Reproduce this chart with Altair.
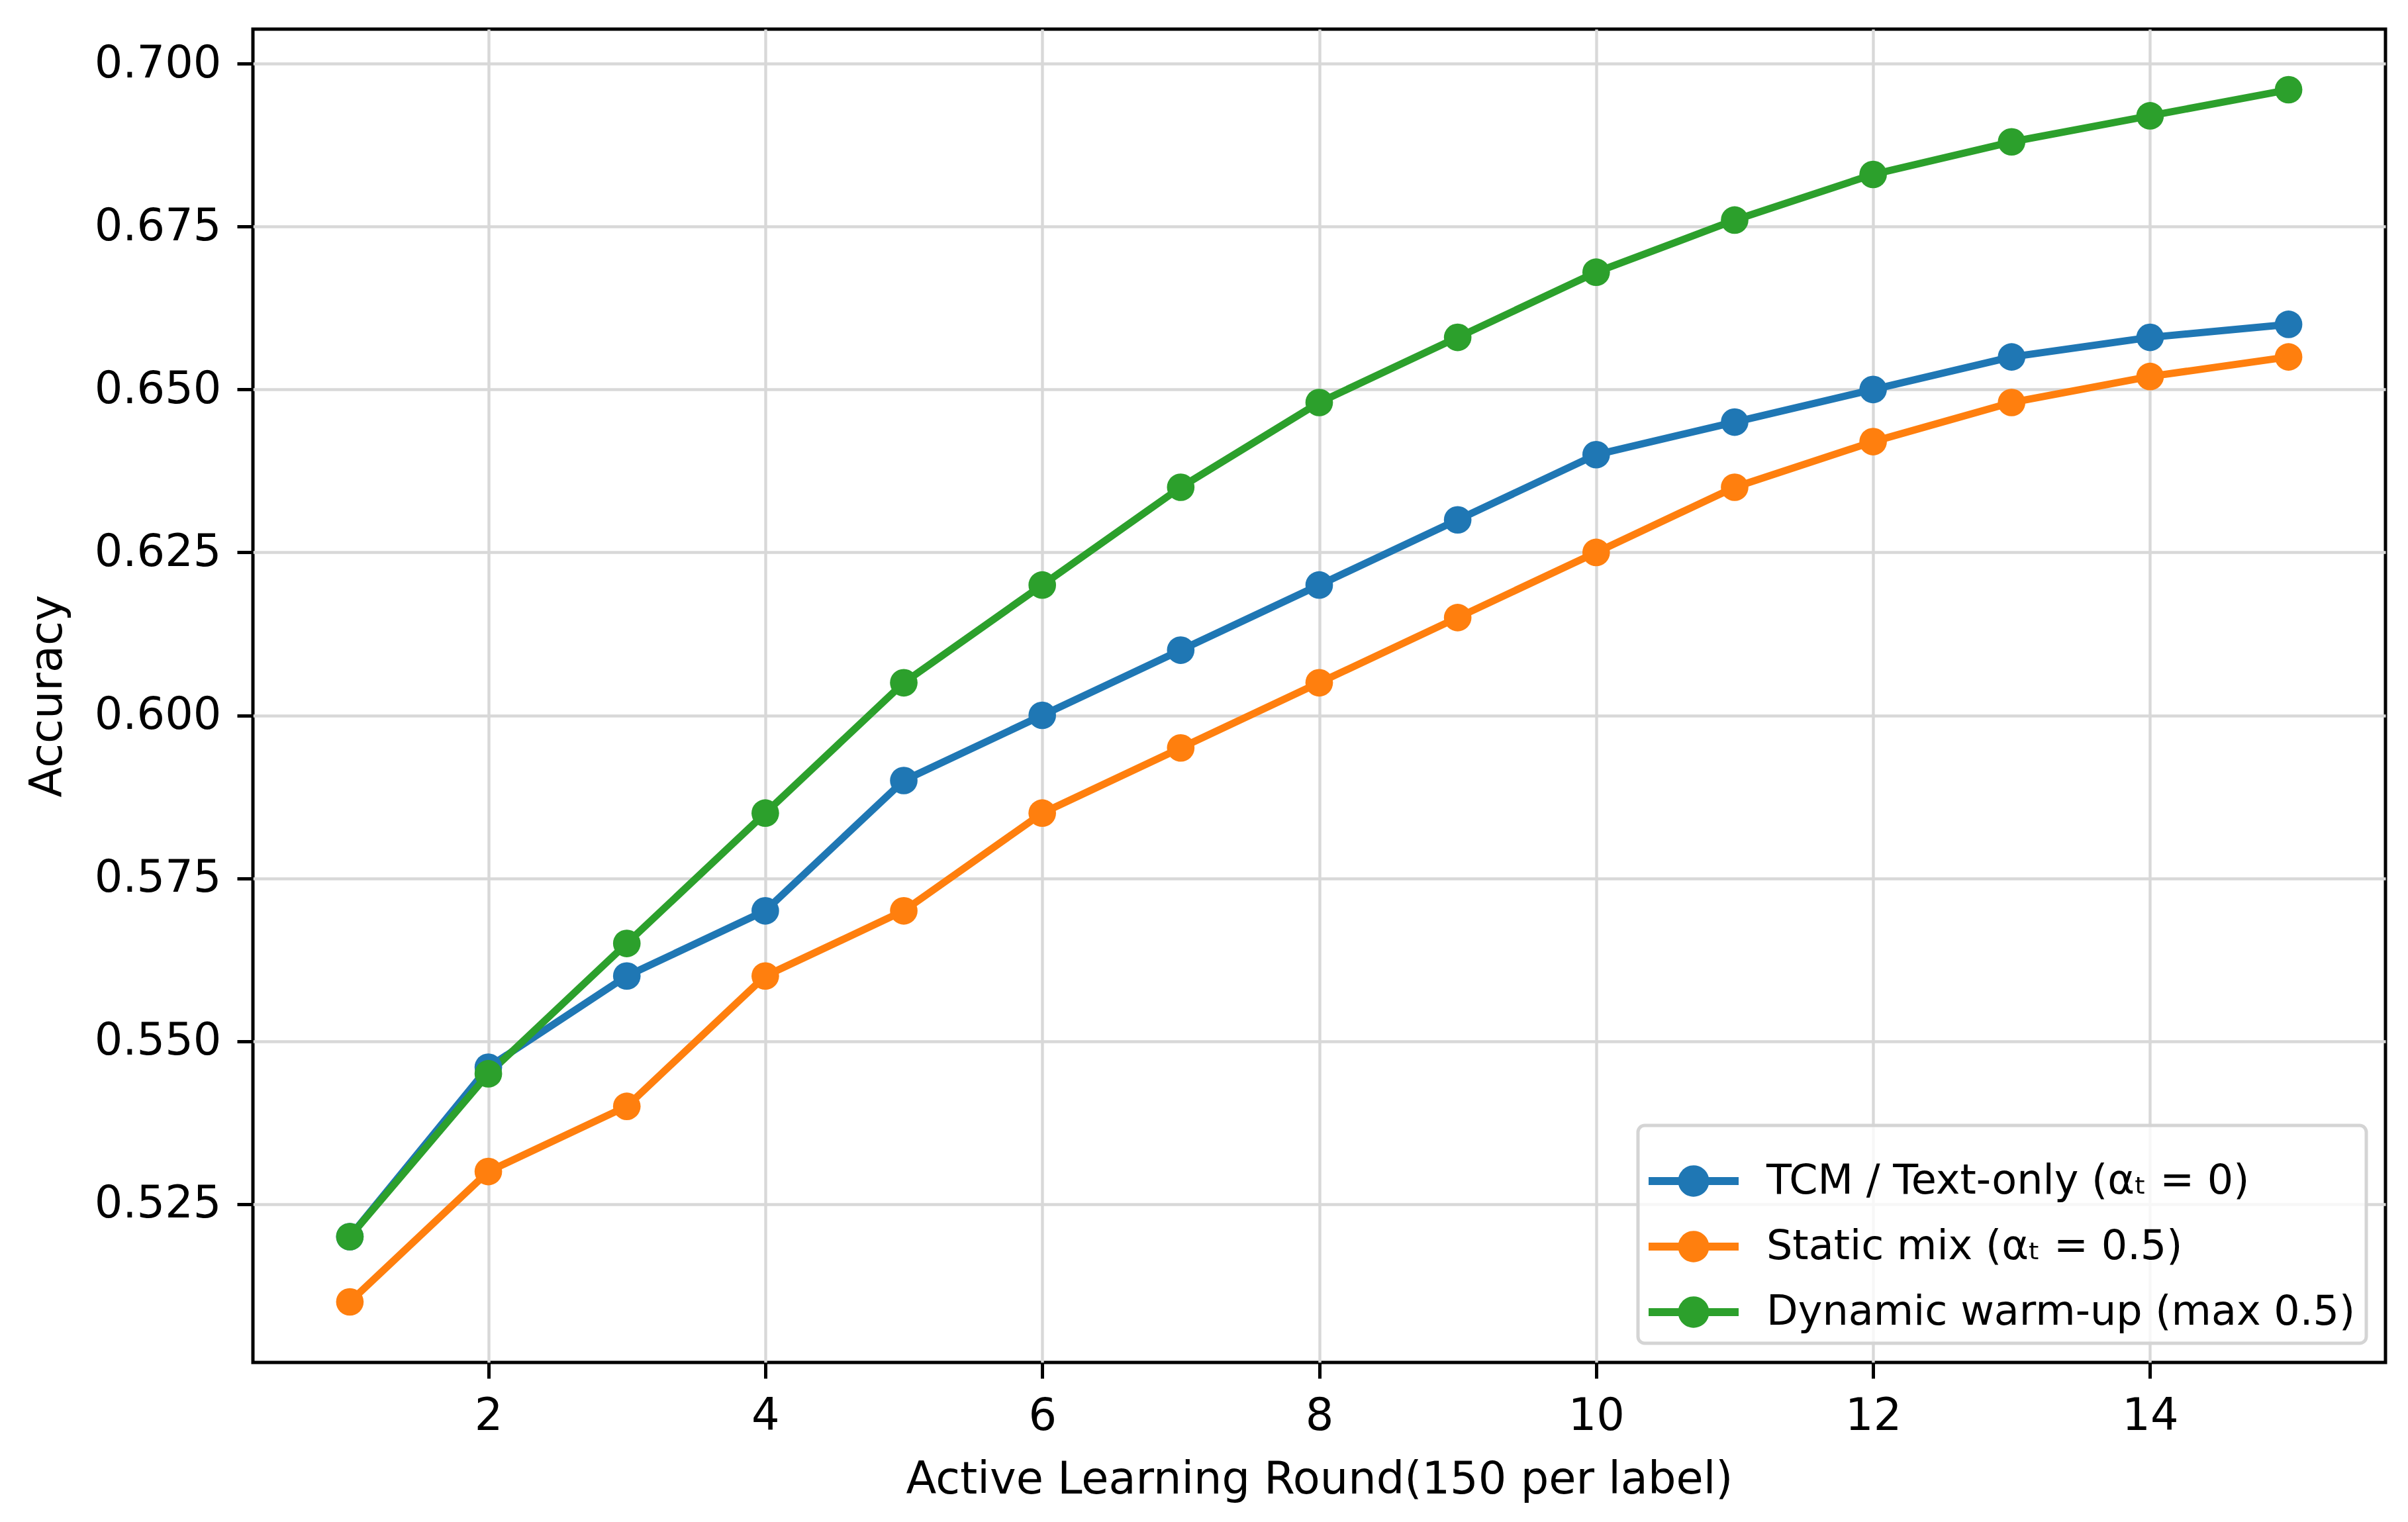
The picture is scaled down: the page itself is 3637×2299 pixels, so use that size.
import altair as alt
import pandas as pd

rounds = list(range(1, 16))
tcm = [0.520, 0.546, 0.560, 0.570, 0.590, 0.600, 0.610, 0.620, 0.630, 0.640, 0.645, 0.650, 0.655, 0.658, 0.660]
static_mix = [0.510, 0.530, 0.540, 0.560, 0.570, 0.585, 0.595, 0.605, 0.615, 0.625, 0.635, 0.642, 0.648, 0.652, 0.655]
dynamic = [0.520, 0.545, 0.565, 0.585, 0.605, 0.620, 0.635, 0.648, 0.658, 0.668, 0.676, 0.683, 0.688, 0.692, 0.696]

series_names = ["TCM / Text-only (αₜ = 0)", "Static mix (αₜ = 0.5)", "Dynamic warm-up (max 0.5)"]
series_colors = ["#1f77b4", "#ff7f0e", "#2ca02c"]
y_ticks = [0.525, 0.550, 0.575, 0.600, 0.625, 0.650, 0.675, 0.700]
x_ticks = [2, 4, 6, 8, 10, 12, 14]

rows = []
for sid, (name, vals) in enumerate(zip(series_names, [tcm, static_mix, dynamic])):
    for r, v in zip(rounds, vals):
        rows.append({"round": r, "acc": v, "series": name, "sid": sid})
df = pd.DataFrame(rows)

FONT = "DejaVu Sans"
FS = 67

# legend handle: line segment with a circle in the middle
sym_path = ("M-1,-0.088 L-0.335,-0.088 A0.346,0.346 0 0,1 0.335,-0.088 L1,-0.088 L1,0.088 "
            "L0.335,0.088 A0.346,0.346 0 0,1 -0.335,0.088 L-1,0.088 Z")

x_enc = alt.X("round:Q",
              scale=alt.Scale(domain=[0.3, 15.7], nice=False, zero=False),
              axis=alt.Axis(values=x_ticks, format="d",
                            title="Active Learning Round(150 per label)"))
y_enc = alt.Y("acc:Q",
              scale=alt.Scale(domain=[0.5007, 0.7053], nice=False, zero=False),
              axis=alt.Axis(values=y_ticks, format=".3f", title="Accuracy"))

lines = alt.Chart(df).mark_line(strokeWidth=11, strokeJoin="round").encode(
    x=x_enc, y=y_enc,
    stroke=alt.Stroke("sid:N", scale=alt.Scale(domain=[0, 1, 2], range=series_colors),
                      legend=None),
    order=alt.Order("round:Q"),
)

points = alt.Chart(df).mark_point(filled=True, size=1735, opacity=1, strokeWidth=0).encode(
    x=x_enc, y=y_enc,
    color=alt.Color("series:N", scale=alt.Scale(domain=series_names, range=series_colors),
                    sort=series_names,
                    legend=alt.Legend(title=None, orient="bottom-right", offset=29,
                                      symbolType=sym_path, symbolSize=18496,
                                      symbolStrokeWidth=0, symbolOpacity=1,
                                      labelFont=FONT, labelFontSize=62, labelColor="black",
                                      labelOffset=42, rowPadding=0, labelLimit=2000,
                                      fillColor="rgba(255,255,255,0.8)", strokeColor="#d4d4d4",
                                      padding=16, cornerRadius=10)),
)

chart = alt.layer(lines, points).properties(
    width=3221, height=2014,
    autosize=alt.AutoSizeParams(type="none"),
    padding={"left": 374, "top": 36, "right": 18, "bottom": 225},
    background="white",
).configure_view(
    stroke="black", strokeWidth=5
).configure_axis(
    domain=False,
    grid=True, gridColor="#d8d8d8", gridWidth=4.4,
    ticks=True, tickColor="black", tickWidth=5, tickSize=24,
    labelFont=FONT, labelFontSize=FS, labelColor="black", labelPadding=24, labelLimit=1000,
    titleFont=FONT, titleFontSize=FS, titleFontWeight="normal", titleColor="black",
).configure_axisX(
    titlePadding=30,
).configure_axisY(
    titlePadding=76,
).configure_legend(
    strokeWidth=5,
)

chart.save("out.html", embed_options={"renderer": "svg", "actions": False})
